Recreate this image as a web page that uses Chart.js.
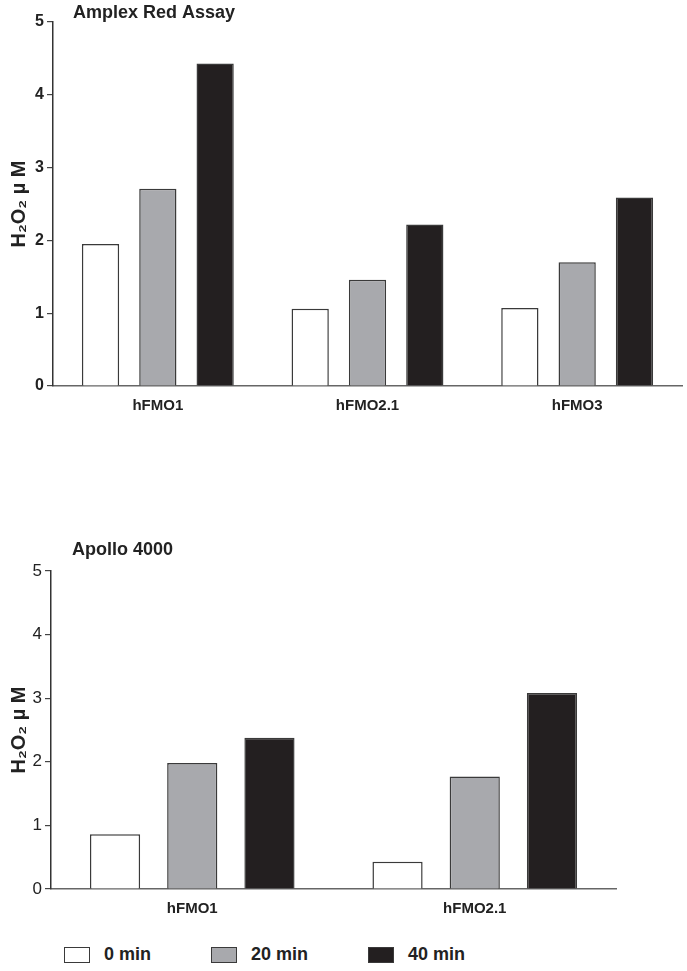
<!DOCTYPE html>
<html>
<head>
<meta charset="utf-8">
<script src="https://cdn.jsdelivr.net/npm/chart.js@4.4.0/dist/chart.umd.min.js"></script>
<style>
  body { margin: 0; background: #fff; width: 687px; height: 971px; position: relative; overflow: hidden;
         font-family: Arial, "Liberation Sans", sans-serif; }
  #wrap1 { position: absolute; left: 0; top: 0; width: 687px; height: 420px; }
  #wrap2 { position: absolute; left: 0; top: 530px; width: 687px; height: 393px; }
  #legend { position: absolute; left: 64px; top: 944px; display: flex; align-items: center; }
  .item { display: flex; align-items: center; margin-right: 60px; }
  .box { width: 26px; height: 16px; box-sizing: border-box; border: 1.5px solid #3a3a3a; margin-right: 14px; }
  .lbl { font: bold 18px Arial, "Liberation Sans", sans-serif; color: #222; }
</style>
</head>
<body>
<div id="wrap1"><canvas id="myChart"></canvas></div>
<div id="wrap2"><canvas id="myChart2"></canvas></div>
<div id="legend"></div>
<script>
// series / times
var times = ['0 min', '20 min', '40 min'];
var colors = ['#ffffff', '#a8a9ad', '#231f20'];

// Amplex Red Assay
var amplexLabels = ['hFMO1', 'hFMO2.1', 'hFMO3'];
var amplex0 = [1.95, 1.06, 1.07];
var amplex20 = [2.71, 1.46, 1.70];
var amplex40 = [4.43, 2.22, 2.59];

// Apollo 4000
var apolloLabels = ['hFMO1', 'hFMO2.1'];
var apollo0 = [0.86, 0.43];
var apollo20 = [1.98, 1.77];
var apollo40 = [2.38, 3.08];

var yTicks = [0, 1, 2, 3, 4, 5];

var panelTitle = {
    id: 'panelTitle',
    afterDraw: function (chart, args, opts) {
        var c = chart.ctx;
        c.save();
        c.font = 'bold 18px Arial, "Liberation Sans", sans-serif';
        c.fillStyle = '#222';
        c.textBaseline = 'middle';
        c.fillText(opts.text, opts.x, opts.y);
        c.restore();
    }
};

function makeChart(id, labels, s0, s1, s2, cfg) {
    var ctx = document.getElementById(id).getContext('2d');
    return new Chart(ctx, {
        type: 'bar',
        data: {
            labels: labels,
            datasets: [s0, s1, s2].map(function (d, i) {
                return {
                    label: times[i],
                    data: d,
                    backgroundColor: colors[i],
                    borderColor: '#3a3a3a',
                    borderWidth: 1.5,
                    categoryPercentage: 0.82,
                    barPercentage: 0.65
                };
            })
        },
        options: {
            responsive: true,
            maintainAspectRatio: false,
            animation: false,
            layout: { padding: cfg.padding },
            plugins: {
                legend: { display: false },
                tooltip: { enabled: false },
                panelTitle: cfg.title
            },
            scales: {
                x: {
                    grid: { display: false },
                    border: { display: true, color: '#666', width: 1.5 },
                    ticks: { color: '#222', padding: 3, font: { family: 'Arial', size: 15, weight: 'bold' } },
                    afterFit: function (s) { s.height = 34; }
                },
                y: {
                    min: 0, max: 5,
                    afterBuildTicks: function (s) { s.ticks = yTicks.map(function (v) { return { value: v }; }); },
                    grid: { drawOnChartArea: false, drawTicks: true, tickLength: 6, color: '#444', lineWidth: 1.2 },
                    border: { display: true, color: '#333', width: 1.5 },
                    ticks: { color: '#222', padding: 3, font: cfg.tickFont },
                    title: {
                        display: true,
                        text: 'H\u2082O\u2082 \u00b5 M',
                        color: '#222',
                        font: { family: 'Arial', size: 20, weight: 'bold' },
                        padding: { top: 7, bottom: 0 }
                    },
                    afterFit: function (s) { s.width = cfg.yWidth; }
                }
            }
        },
        plugins: [panelTitle]
    });
}

var chart = makeChart('myChart', amplexLabels, amplex0, amplex20, amplex40, {
    padding: { top: 22, right: 5, left: 0, bottom: 0 },
    yWidth: 53,
    tickFont: { family: 'Arial', size: 16, weight: 'bold' },
    title: { text: 'Amplex Red Assay', x: 73, y: 13 },
});
var chart2 = makeChart('myChart2', apolloLabels, apollo0, apollo20, apollo40, {
    padding: { top: 41, right: 71, left: 0, bottom: 0 },
    yWidth: 51,
    tickFont: { family: 'Arial', size: 17, weight: 'normal' },
    title: { text: 'Apollo 4000', x: 72, y: 20 }
});

// legend
var leg = document.getElementById('legend');
times.forEach(function (t, i) {
    var it = document.createElement('div');
    it.className = 'item';
    it.innerHTML = '<div class="box" style="background:' + colors[i] + '"></div><span class="lbl">' + t + '</span>';
    leg.appendChild(it);
});
</script>
</body>
</html>
